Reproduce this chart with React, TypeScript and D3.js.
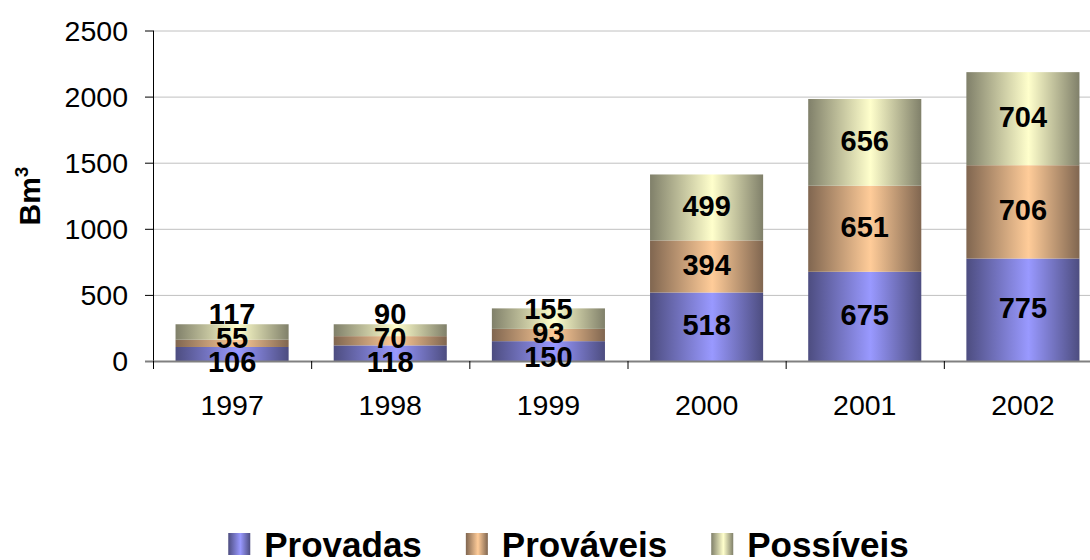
import React from 'react';
import * as d3 from 'd3';

const years = ['1997', '1998', '1999', '2000', '2001', '2002'];
const provadas = [106, 118, 150, 518, 675, 775];
const provaveis = [55, 70, 93, 394, 651, 706];
const possiveis = [117, 90, 155, 499, 656, 704];
const seriesNames = ['Provadas', 'Prováveis', 'Possíveis'];
const seriesLight = ['#9999FF', '#FFCC99', '#FFFFCC'];
const seriesDark = ['#4D4D80', '#806650', '#80806A'];
const yTicks = [0, 500, 1000, 1500, 2000, 2500];

const W = 1090;
const H = 560;
const FONT = '"Liberation Sans", Arial, Helvetica, sans-serif';

function declutter(desired: number[], gap: number, maxY: number): number[] {
  // desired ordered bottom (largest y) to top
  const clusters: { idx: number[]; base: number }[] = [];
  for (let i = 0; i < desired.length; i++) {
    clusters.push({ idx: [i], base: Math.min(desired[i], maxY) });
    while (clusters.length > 1) {
      const a = clusters[clusters.length - 2];
      const b = clusters[clusters.length - 1];
      const aTop = a.base - (a.idx.length - 1) * gap;
      if (b.base > aTop - gap) {
        const idx = a.idx.concat(b.idx);
        let s = 0;
        idx.forEach((j, k) => (s += desired[j] + k * gap));
        const base = Math.min(s / idx.length, maxY);
        clusters.splice(clusters.length - 2, 2, { idx, base });
      } else break;
    }
  }
  const out: number[] = new Array(desired.length);
  clusters.forEach((c) => c.idx.forEach((j, k) => (out[j] = c.base - k * gap)));
  return out;
}

function measure(text: string, font: string): number {
  if (typeof document === 'undefined') return text.length * 18;
  const c = document.createElement('canvas');
  const ctx = c.getContext('2d');
  if (!ctx) return text.length * 18;
  ctx.font = font;
  return ctx.measureText(text).width;
}

export default function App() {
  const x0 = 153;
  const x = d3
    .scaleBand<string>()
    .domain(years)
    .range([x0, 1102])
    .paddingInner(0.285)
    .paddingOuter(0.1425);
  const y = d3.scaleLinear().domain([0, 2500]).range([361, 30.5]);

  const rows = years.map((yr, i) => ({
    year: yr,
    s0: provadas[i],
    s1: provaveis[i],
    s2: possiveis[i],
  }));
  const keys = ['s0', 's1', 's2'];
  const stacked = d3.stack<any>().keys(keys)(rows);

  const labelFs = 29;
  const labelPositions = years.map((_, i) => {
    const desired = stacked.map((layer) => y((layer[i][0] + layer[i][1]) / 2) - 2);
    return declutter(desired, 24, y(0) + 1);
  });

  const step = x.step();
  const boundaries = d3.range(years.length + 1).map((k) => x0 + k * step);

  // legend layout
  const legFs = 35;
  const legFont = `bold ${legFs}px "Liberation Sans", Arial, sans-serif`;
  const markerW = 22;
  const markerGap = 14;
  const itemGap = 44;
  const widths = seriesNames.map((n) => measure(n, legFont));
  const itemWidths = widths.map((w) => markerW + markerGap + w);
  const totalW = d3.sum(itemWidths) + itemGap * (seriesNames.length - 1);
  const legStart = 568.5 - totalW / 2;
  const legX: number[] = [];
  let acc = legStart;
  itemWidths.forEach((w) => {
    legX.push(acc);
    acc += w + itemGap;
  });

  return (
    <svg
      width={W}
      height={H}
      viewBox={`0 0 ${W} ${H}`}
      style={{ position: 'absolute', left: 0, top: 0, background: '#fff' }}
      fontFamily={FONT}
    >
      <defs>
        {seriesNames.map((_, si) => (
          <linearGradient key={si} id={`g${si}`} x1="0" x2="1" y1="0" y2="0">
            <stop offset="0" stopColor={seriesDark[si]} />
            <stop offset="0.55" stopColor={seriesLight[si]} />
            <stop offset="1" stopColor={seriesDark[si]} />
          </linearGradient>
        ))}
      </defs>
      <rect x={0} y={0} width={W} height={H} fill="#fff" />

      {/* gridlines */}
      {yTicks
        .filter((t) => t > 0)
        .map((t) => (
          <line key={t} x1={x0} x2={W} y1={y(t) + 0.5} y2={y(t) + 0.5} stroke="#C0C0C0" strokeWidth={1} />
        ))}

      {/* bars */}
      {stacked.map((layer, si) =>
        layer.map((d, i) => (
          <rect
            key={`${si}-${i}`}
            x={x(years[i])}
            y={y(d[1])}
            width={x.bandwidth()}
            height={y(d[0]) - y(d[1])}
            fill={`url(#g${si})`}
          />
        ))
      )}

      {/* y axis */}
      <line x1={x0 + 0.5} x2={x0 + 0.5} y1={y(2500)} y2={369} stroke="#000" strokeWidth={1} />
      {yTicks.map((t) => (
        <g key={t}>
          <line x1={145} x2={x0} y1={y(t) + 0.5} y2={y(t) + 0.5} stroke="#000" strokeWidth={1} />
          <text x={128} y={y(t) + 10} textAnchor="end" fontSize={28.5} fill="#000">
            {t}
          </text>
        </g>
      ))}

      {/* x axis */}
      <line x1={145} x2={W} y1={y(0) + 0.5} y2={y(0) + 0.5} stroke="#808080" strokeWidth={2} />
      {boundaries.map((b, k) => (
        <line key={k} x1={b + 0.5} x2={b + 0.5} y1={y(0)} y2={369} stroke="#000" strokeWidth={1} />
      ))}
      {years.map((yr) => (
        <text
          key={yr}
          x={(x(yr) as number) + x.bandwidth() / 2}
          y={415}
          textAnchor="middle"
          fontSize={28.5}
          fill="#000"
        >
          {yr}
        </text>
      ))}

      {/* data labels */}
      {years.map((yr, i) =>
        stacked.map((layer, si) => (
          <text
            key={`${yr}-${si}`}
            x={(x(yr) as number) + x.bandwidth() / 2}
            y={labelPositions[i][si] + labelFs * 0.36}
            textAnchor="middle"
            fontSize={labelFs}
            fontWeight="bold"
            fill="#000"
          >
            {layer[i][1] - layer[i][0]}
          </text>
        ))
      )}

      {/* y axis title */}
      <text transform="translate(40,196) rotate(-90)" textAnchor="middle" fontSize={30} fontWeight="bold" fill="#000">
        Bm
        <tspan dy={-12} fontSize={19}>
          3
        </tspan>
      </text>

      {/* legend */}
      {seriesNames.map((n, si) => (
        <g key={n}>
          <rect x={legX[si]} y={533} width={markerW} height={22} fill={`url(#g${si})`} />
          <text
            x={legX[si] + markerW + markerGap}
            y={557}
            fontSize={legFs}
            fontWeight="bold"
            fill="#000"
          >
            {n}
          </text>
        </g>
      ))}
    </svg>
  );
}
